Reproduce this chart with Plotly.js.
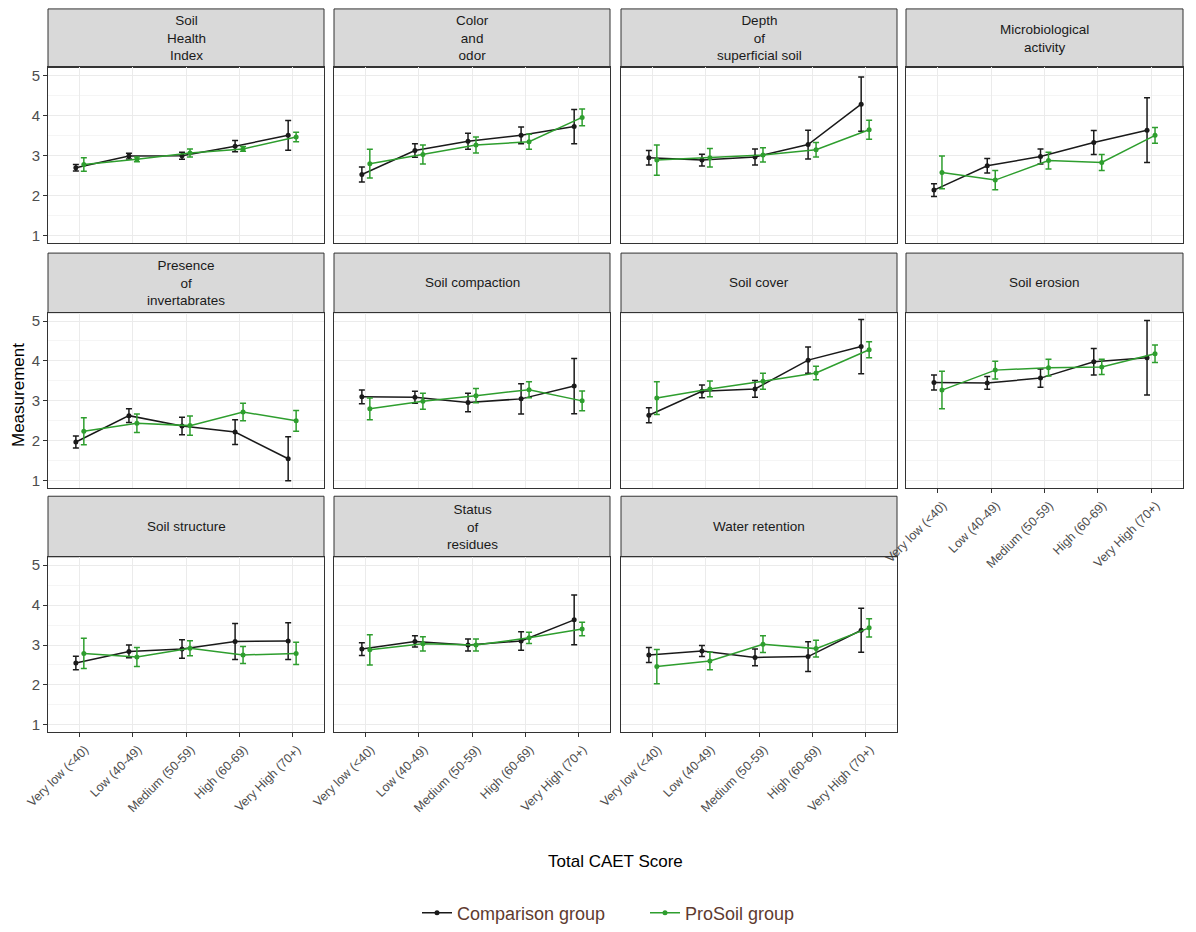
<!DOCTYPE html>
<html>
<head>
<meta charset="utf-8">
<script src="https://cdn.plot.ly/plotly-3.0.1.min.js"></script>
<style>html,body{margin:0;padding:0;background:#fff;width:1196px;height:932px;overflow:hidden;}#chart{width:1196px;height:932px;display:block;}</style>
</head>
<body>
<div id="chart"></div>
<script>
const categories = ["Very low (<40)", "Low (40-49)", "Medium (50-59)", "High (60-69)", "Very High (70+)"];
const panelTitles = [
  "Soil<br>Health<br>Index", "Color<br>and<br>odor", "Depth<br>of<br>superficial soil", "Microbiological<br>activity",
  "Presence<br>of<br>invertabrates", "Soil compaction", "Soil cover", "Soil erosion",
  "Soil structure", "Status<br>of<br>residues", "Water retention"
];
const seriesNames = ["Comparison group", "ProSoil group"];

const comparisonMean = [
  [2.70, 2.99, 3.00, 3.24, 3.51],
  [2.53, 3.13, 3.36, 3.51, 3.73],
  [2.95, 2.89, 2.97, 3.28, 4.29],
  [2.14, 2.75, 2.98, 3.33, 3.64],
  [1.97, 2.63, 2.37, 2.22, 1.55],
  [3.10, 3.09, 2.96, 3.05, 3.37],
  [2.64, 3.24, 3.30, 4.02, 4.36],
  [3.46, 3.45, 3.57, 3.98, 4.08],
  [2.55, 2.84, 2.90, 3.09, 3.10],
  [2.90, 3.09, 3.00, 3.10, 3.63],
  [2.75, 2.85, 2.69, 2.71, 3.37]
];
const comparisonErr = [
  [0.08, 0.07, 0.09, 0.14, 0.37],
  [0.19, 0.17, 0.20, 0.21, 0.43],
  [0.18, 0.15, 0.20, 0.36, 0.68],
  [0.16, 0.18, 0.19, 0.30, 0.81],
  [0.15, 0.17, 0.22, 0.31, 0.55],
  [0.17, 0.15, 0.23, 0.38, 0.69],
  [0.19, 0.16, 0.21, 0.33, 0.68],
  [0.19, 0.16, 0.23, 0.33, 0.93],
  [0.17, 0.16, 0.23, 0.45, 0.46],
  [0.16, 0.14, 0.15, 0.23, 0.62],
  [0.19, 0.14, 0.21, 0.37, 0.55]
];
const prosoilMean = [
  [2.78, 2.91, 3.07, 3.17, 3.47],
  [2.80, 3.03, 3.27, 3.35, 3.96],
  [2.89, 2.95, 3.02, 3.15, 3.65],
  [2.58, 2.39, 2.88, 2.83, 3.51],
  [2.24, 2.44, 2.38, 2.72, 2.50],
  [2.80, 2.99, 3.13, 3.28, 3.00],
  [3.07, 3.30, 3.49, 3.70, 4.28],
  [3.27, 3.77, 3.83, 3.85, 4.18],
  [2.79, 2.70, 2.92, 2.75, 2.79],
  [2.88, 3.03, 3.00, 3.18, 3.40],
  [2.46, 2.60, 3.02, 2.91, 3.43]
];
const prosoilErr = [
  [0.17, 0.06, 0.10, 0.06, 0.12],
  [0.36, 0.24, 0.20, 0.19, 0.21],
  [0.38, 0.23, 0.18, 0.18, 0.24],
  [0.41, 0.24, 0.21, 0.20, 0.20],
  [0.34, 0.23, 0.24, 0.22, 0.26],
  [0.27, 0.20, 0.18, 0.20, 0.25],
  [0.41, 0.20, 0.20, 0.17, 0.20],
  [0.47, 0.22, 0.21, 0.19, 0.22],
  [0.38, 0.24, 0.19, 0.21, 0.28],
  [0.38, 0.18, 0.15, 0.14, 0.17],
  [0.43, 0.22, 0.21, 0.21, 0.23]
];

const W = 1196, H = 932;
const colX = [[48, 324], [334, 610], [621, 897], [906, 1183]];
const rowY = [[68, 245], [315, 492], [561, 738]];
const stripTop = [9, 255, 500];
const colors = ["#1a1a1a", "#2e9e2e"];
const dodge = 0.075;
const FONT = "Liberation Sans, Arial, sans-serif";

const traces = [];
const layout = {
  width: W, height: H,
  margin: {l: 0, r: 0, t: 0, b: 0},
  paper_bgcolor: "#ffffff", plot_bgcolor: "#ffffff",
  font: {family: FONT, color: "#4d4d4d"},
  showlegend: true,
  legend: {orientation: "h", x: 417 / W, xanchor: "left", y: 1 - 920 / H, yanchor: "middle",
           entrywidth: 183, entrywidthmode: "pixels",
           font: {size: 18, color: "#5e3b30", family: FONT}, itemwidth: 30},
  shapes: [], annotations: []
};
const xIdx = categories.map((_, i) => i + 1);

panelTitles.forEach((title, i) => {
  const r = Math.floor(i / 4), c = i % 4, n = i + 1;
  const xs = n === 1 ? "x" : "x" + n, ys = n === 1 ? "y" : "y" + n;
  const xk = n === 1 ? "xaxis" : "xaxis" + n, yk = n === 1 ? "yaxis" : "yaxis" + n;
  const showX = (r === 2) || (r === 1 && c === 3);
  const showY = c === 0;
  layout[xk] = {
    domain: [colX[c][0] / W, colX[c][1] / W], anchor: ys,
    range: [0.4, 5.6], tickvals: xIdx, ticktext: categories,
    showticklabels: showX, ticks: showX ? "outside" : "", ticklen: 4, tickcolor: "#333333",
    tickangle: -45, tickfont: {size: 12.5, color: "#4d4d4d"}, ticklabelshift: 5,
    showgrid: true, gridcolor: "#ebebeb", gridwidth: 1, zeroline: false,
    showline: true, mirror: true, linecolor: "#333333", linewidth: 1
  };
  layout[yk] = {
    domain: [1 - rowY[r][1] / H, 1 - rowY[r][0] / H], anchor: xs,
    range: [0.81, 5.21], tickvals: [1, 2, 3, 4, 5],
    showticklabels: showY, ticks: showY ? "outside" : "", ticklen: 4, tickcolor: "#333333",
    tickfont: {size: 15, color: "#4d4d4d"},
    showgrid: true, gridcolor: "#ebebeb", gridwidth: 1, zeroline: false,
    minor: {dtick: 0.5, tick0: 0, showgrid: true, gridcolor: "#f2f2f2", gridwidth: 0.8, ticks: ""},
    showline: true, mirror: true, linecolor: "#333333", linewidth: 1
  };
  layout.shapes.push({type: "rect", xref: "paper", yref: "paper", layer: "below",
    x0: colX[c][0] / W, x1: colX[c][1] / W, y0: 1 - rowY[r][0] / H, y1: 1 - stripTop[r] / H,
    fillcolor: "#d9d9d9", line: {color: "#333333", width: 1}});
  layout.annotations.push({xref: "paper", yref: "paper", showarrow: false,
    x: (colX[c][0] + colX[c][1]) / 2 / W, y: 1 - (stripTop[r] + rowY[r][0]) / 2 / H,
    xanchor: "center", yanchor: "middle", align: "center", text: title,
    font: {size: 13.5, color: "#1a1a1a", family: FONT}});

  [[comparisonMean, comparisonErr, -dodge], [prosoilMean, prosoilErr, dodge]].forEach(([m, e, d], s) => {
    traces.push({
      type: "scatter", mode: "lines+markers", name: seriesNames[s], legendgroup: seriesNames[s],
      showlegend: i === 0, xaxis: xs, yaxis: ys,
      x: xIdx.map(v => v + d), y: m[i],
      line: {color: colors[s], width: 1.5}, marker: {color: colors[s], size: 5},
      error_y: {type: "data", array: e[i], visible: true, color: colors[s], thickness: 1.5, width: 3}
    });
  });
});

layout.annotations.push({xref: "paper", yref: "paper", showarrow: false, x: 18 / W, y: 1 - 398 / H,
  text: "Measurement", textangle: -90, font: {size: 17, color: "#000000", family: FONT}, xanchor: "center", yanchor: "middle"});
layout.annotations.push({xref: "paper", yref: "paper", showarrow: false, x: 615 / W, y: 1 - 868 / H,
  text: "Total CAET Score", font: {size: 17, color: "#000000", family: FONT}, xanchor: "center", yanchor: "middle"});

Plotly.newPlot("chart", traces, layout, {staticPlot: true, displayModeBar: false});
</script>
</body>
</html>
